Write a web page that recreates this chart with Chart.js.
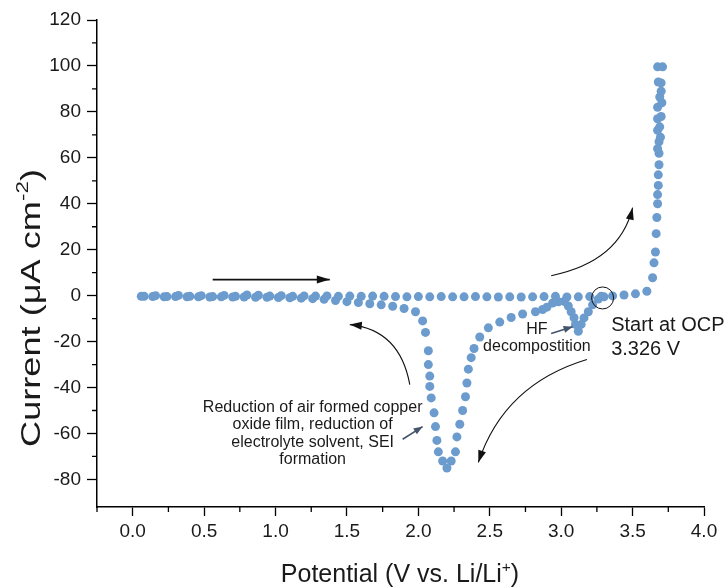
<!DOCTYPE html>
<html>
<head>
<meta charset="utf-8">
<script src="https://cdn.jsdelivr.net/npm/chart.js@4.4.0/dist/chart.umd.min.js"></script>
<style>
  html, body { margin: 0; padding: 0; background: #fff; }
  #wrap { width: 724px; height: 588px; }
</style>
</head>
<body>
<div id="wrap"><canvas id="cv" width="724" height="588"></canvas></div>
<script>
// ----------------------
// Data (V vs. Li/Li+, uA cm-2)
// ----------------------
// forward scan, 0.08 V apart, flat until the oxidation onset
const fwdV = [0.08, 0.16, 0.24, 0.32, 0.40, 0.48, 0.56, 0.64, 0.72, 0.80, 0.88, 0.96, 1.04, 1.12, 1.20,
  1.28, 1.36, 1.44, 1.52, 1.60, 1.68, 1.76, 1.84, 1.92, 2.00, 2.08, 2.16, 2.24, 2.32, 2.40,
  2.48, 2.56, 2.64, 2.72, 2.80, 2.88, 2.96, 3.04, 3.12, 3.20, 3.28, 3.36, 3.44, 3.52, 3.60];
const fwdI = [-0.3, 0.0, -0.4, 0.1, -0.3, 0.0, -0.4, 0.1, -0.3, 0.3, 0.2, -0.2, 0.0, -0.3, -0.1,
  -0.2, -0.1, -0.3, -0.2, -0.3, -0.2, -0.3, -0.4, -0.5, -0.4, -0.5, -0.4, -0.5, -0.5, -0.4,
  -0.5, -0.6, -0.5, -0.6, -0.5, -0.4, -0.3, -0.6, -0.5, -0.4, -0.3, -0.1, 0.3, 0.8, 1.9];

// steep rise near 3.7 V
const riseV = [3.64, 3.65, 3.66, 3.665, 3.67, 3.675, 3.675, 3.68, 3.68, 3.685, 3.685, 3.675, 3.685,
  3.695, 3.675, 3.69, 3.675, 3.70, 3.675, 3.705, 3.69, 3.70, 3.70, 3.68, 3.675, 3.71];
const riseI = [7.8, 14.3, 19, 27, 34, 40, 44, 48, 52.6, 57, 62, 64, 67,
  69, 72, 73.5, 77, 78, 82, 84, 86.5, 89, 92.6, 93, 99.6, 99.6];

// cathodic scan from OCP (3.326 V) down to 0.06 V
const revV = [3.30, 3.26, 3.22, 3.19, 3.16, 3.14, 3.12, 3.10, 3.09, 3.07, 3.05, 3.02, 2.98, 2.94,
  2.90, 2.87, 2.82, 2.73, 2.65, 2.57, 2.49, 2.43, 2.39, 2.37, 2.35, 2.34, 2.33, 2.31, 2.29,
  2.27, 2.26, 2.23, 2.20, 2.17, 2.14, 2.13, 2.12, 2.11, 2.09, 2.08, 2.08, 2.07, 2.07, 2.05,
  2.03, 1.98, 1.90, 1.82, 1.74, 1.66, 1.58, 1.50, 1.42, 1.34, 1.26, 1.18, 1.10, 1.02, 0.94,
  0.86, 0.78, 0.70, 0.62, 0.54, 0.46, 0.38, 0.30, 0.22, 0.14, 0.06];
const revI = [-0.5, -1.5, -4, -7, -9.7, -12.5, -15.5, -12.5, -9.6, -7, -4.5, -2.5, -2.7, -3.2,
  -5, -6, -7, -8, -9.5, -11.5, -14, -18, -23, -27, -32, -38, -44, -50, -56,
  -61.5, -68, -72, -75, -72, -68, -63, -57, -51, -44.5, -39.5, -35, -30, -24, -16,
  -11, -7, -5.6, -4.6, -4, -3.5, -3, -2.6, -2.1, -1.6, -1.3, -1.1, -0.9, -0.8, -0.7,
  -0.7, -0.6, -0.6, -0.5, -0.6, -0.5, -0.5, -0.4, -0.5, -0.4, -0.3];

const xTicks = [0, 0.5, 1, 1.5, 2, 2.5, 3, 3.5, 4];
const xMinor = [-0.25, 0.25, 0.75, 1.25, 1.75, 2.25, 2.75, 3.25, 3.75];
const yTicks = [-80, -60, -40, -20, 0, 20, 40, 60, 80, 100, 120];
const yMinor = [-70, -50, -30, -10, 10, 30, 50, 70, 90, 110];

const FONT = '"Liberation Sans", Arial, sans-serif';
const DOT = "#6c9bcd";

function pts(xs, ys) {
  return xs.map((x, i) => ({ x: x, y: ys[i] }));
}

// ----------------------
// Drawing helpers
// ----------------------
function head(ctx, x, y, ang, len, wid) {
  const c = Math.cos(ang), s = Math.sin(ang);
  ctx.beginPath();
  ctx.moveTo(x, y);
  ctx.lineTo(x - len * c + wid / 2 * s, y - len * s - wid / 2 * c);
  ctx.lineTo(x - len * c - wid / 2 * s, y - len * s + wid / 2 * c);
  ctx.closePath();
  ctx.fill();
}

function curveArrow(ctx, a, c, b, color) {
  ctx.strokeStyle = color;
  ctx.fillStyle = color;
  ctx.lineWidth = 1.1;
  ctx.beginPath();
  ctx.moveTo(a[0], a[1]);
  ctx.quadraticCurveTo(c[0], c[1], b[0], b[1]);
  ctx.stroke();
  head(ctx, b[0], b[1], Math.atan2(b[1] - c[1], b[0] - c[0]), 12, 8);
}

function lineArrow(ctx, a, b, color, len, wid) {
  ctx.strokeStyle = color;
  ctx.fillStyle = color;
  ctx.lineWidth = 1.6;
  ctx.beginPath();
  ctx.moveTo(a[0], a[1]);
  ctx.lineTo(b[0], b[1]);
  ctx.stroke();
  head(ctx, b[0], b[1], Math.atan2(b[1] - a[1], b[0] - a[0]), len, wid);
}

// text with a superscript part, optional stretch along the text
function supText(ctx, parts, size, cx, cy, rot, length) {
  ctx.save();
  ctx.translate(cx, cy);
  ctx.rotate(rot);
  const widths = parts.map(p => {
    ctx.font = (p.sup ? size * 0.62 : size) + "px " + FONT;
    return ctx.measureText(p.t).width;
  });
  const total = widths.reduce((a, b) => a + b, 0);
  if (length) ctx.scale(length / total, 1);
  let x = -total / 2;
  ctx.fillStyle = "#1a1a1a";
  ctx.textBaseline = "alphabetic";
  parts.forEach((p, i) => {
    ctx.font = (p.sup ? size * 0.62 : size) + "px " + FONT;
    ctx.fillText(p.t, x, size * 0.36 - (p.sup ? size * 0.42 : 0));
    x += widths[i];
  });
  ctx.restore();
}

const decorations = {
  id: "decorations",
  afterDraw(chart) {
    const ctx = chart.ctx;
    const xs = chart.scales.x, ys = chart.scales.y;
    const area = chart.chartArea;
    const P = (v, i) => [xs.getPixelForValue(v), ys.getPixelForValue(i)];

    // minor ticks
    ctx.save();
    ctx.strokeStyle = "#000";
    ctx.lineWidth = 1.3;
    ctx.beginPath();
    xMinor.forEach(v => {
      const x = xs.getPixelForValue(v);
      ctx.moveTo(x, area.bottom);
      ctx.lineTo(x, area.bottom + 5);
    });
    yMinor.forEach(v => {
      const y = ys.getPixelForValue(v);
      ctx.moveTo(area.left, y);
      ctx.lineTo(area.left - 5, y);
    });
    ctx.stroke();

    // axis titles
    supText(ctx, [{ t: "Current (\u03bcA cm" }, { t: "-2", sup: true }, { t: ")" }],
      27, 30, 308, -Math.PI / 2, 278);
    supText(ctx, [{ t: "Potential (V vs. Li/Li" }, { t: "+", sup: true }, { t: ")" }],
      25, 400, 573, 0, 0);

    // scan direction arrows
    lineArrow(ctx, P(0.56, 7), P(1.38, 7), "#111", 13, 8);
    curveArrow(ctx, P(1.94, -38.7), P(1.87, -14.8), P(1.52, -12.6), "#111");
    curveArrow(ctx, P(2.93, 8.7), P(3.41, 14.8), P(3.50, 38.3), "#111");
    curveArrow(ctx, P(3.18, -27.8), P(2.60, -38.7), P(2.42, -72.6), "#111");

    // pointer arrows
    lineArrow(ctx, P(2.93, -16.5), P(3.08, -13.5), "#44546a", 9, 7);
    lineArrow(ctx, P(1.89, -62.5), P(2.03, -57), "#44546a", 9, 7);

    // OCP circle
    const oc = P(3.29, -1);
    ctx.strokeStyle = "#111";
    ctx.lineWidth = 1;
    ctx.beginPath();
    ctx.arc(oc[0], oc[1], 11, 0, Math.PI * 2);
    ctx.stroke();

    // labels
    ctx.fillStyle = "#1a1a1a";
    ctx.textBaseline = "middle";
    ctx.textAlign = "center";
    ctx.font = "16px " + FONT;
    const hf = P(2.83, -14.8);
    ctx.fillText("HF", hf[0], hf[1]);
    ctx.fillText("decompostition", hf[0], hf[1] + 17);
    const red = P(1.26, -48.7);
    ["Reduction of air formed copper", "oxide film, reduction of",
      "electrolyte solvent, SEI", "formation"].forEach((s, i) => {
      ctx.fillText(s, red[0], red[1] + i * 17.3);
    });
    ctx.textAlign = "left";
    ctx.font = "20px " + FONT;
    const st = P(3.35, -13);
    ctx.fillText("Start at OCP", st[0], st[1]);
    ctx.fillText("3.326 V", st[0], st[1] + 24);
    ctx.restore();
  }
};

// ----------------------
// Chart
// ----------------------
const dotStyle = { pointRadius: 4.5, pointBackgroundColor: DOT, pointBorderWidth: 0, showLine: false };

new Chart(document.getElementById("cv"), {
  type: "scatter",
  data: {
    datasets: [
      Object.assign({ label: "forward", data: pts(fwdV, fwdI) }, dotStyle),
      Object.assign({ label: "rise", data: pts(riseV, riseI) }, dotStyle),
      Object.assign({ label: "reverse", data: pts(revV, revI) }, dotStyle)
    ]
  },
  options: {
    responsive: false,
    animation: false,
    devicePixelRatio: 1,
    layout: { padding: { top: 20, right: 20, left: 0, bottom: 0 } },
    plugins: { legend: { display: false }, tooltip: { enabled: false } },
    scales: {
      x: {
        type: "linear",
        min: -0.25,
        max: 4.0,
        afterBuildTicks: s => { s.ticks = xTicks.map(v => ({ value: v })); },
        afterFit: s => { s.height = 81; },
        ticks: { callback: v => v.toFixed(1), color: "#1a1a1a", font: { family: FONT, size: 19 }, padding: 4, maxRotation: 0 },
        grid: { drawOnChartArea: false, drawTicks: true, tickLength: 9, tickColor: "#000", tickWidth: 1.3 },
        border: { display: true, color: "#000", width: 1.5 }
      },
      y: {
        type: "linear",
        min: -92,
        max: 120,
        afterBuildTicks: s => { s.ticks = yTicks.map(v => ({ value: v })); },
        afterFit: s => { s.width = 97; },
        ticks: { color: "#1a1a1a", font: { family: FONT, size: 19 }, padding: 6 },
        grid: { drawOnChartArea: false, drawTicks: true, tickLength: 10, tickColor: "#000", tickWidth: 1.3 },
        border: { display: true, color: "#000", width: 1.5 }
      }
    }
  },
  plugins: [decorations]
});
</script>
</body>
</html>
